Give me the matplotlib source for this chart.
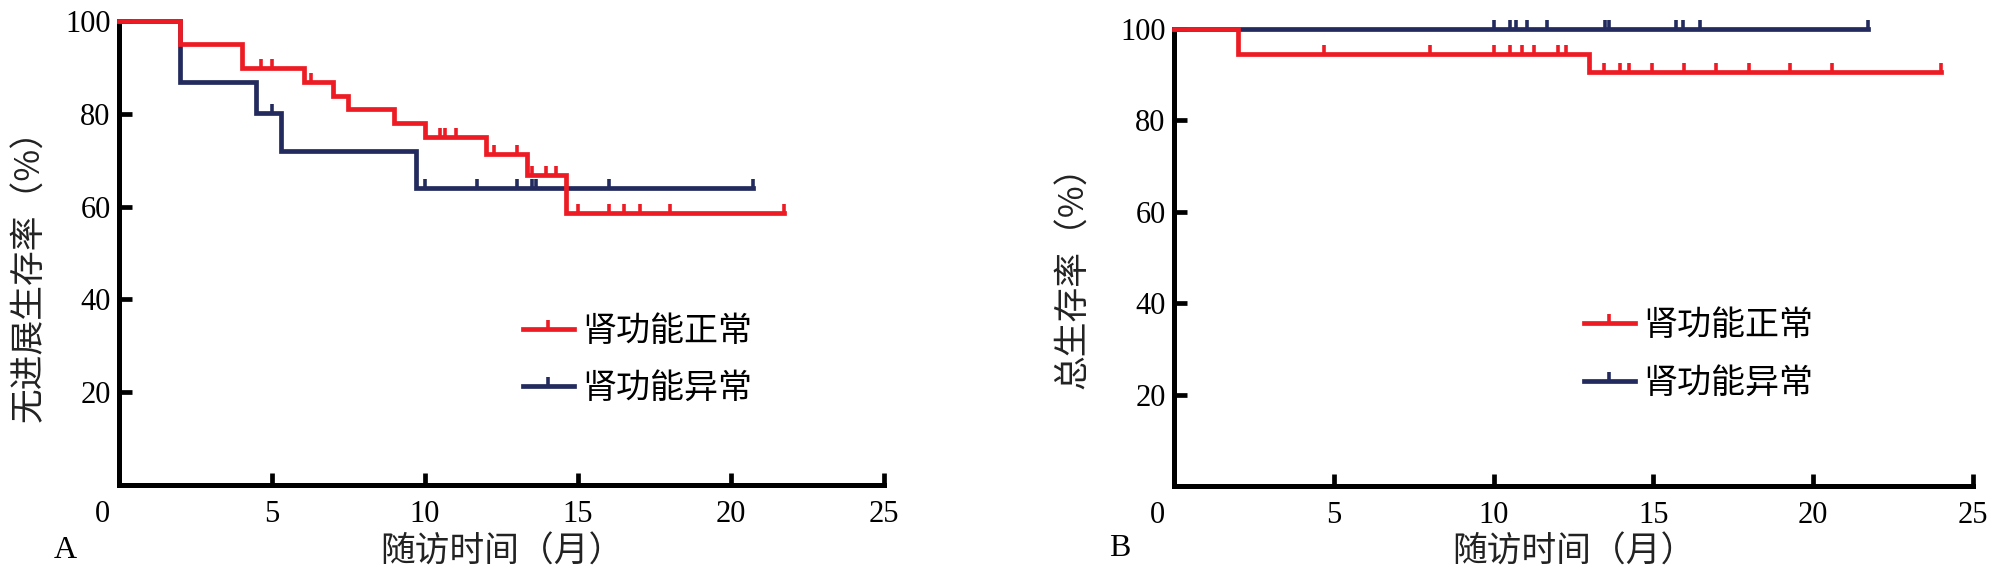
import numpy as np
import matplotlib
matplotlib.use("Agg")
import matplotlib.pyplot as plt
from matplotlib.path import Path
from matplotlib.lines import Line2D
import matplotlib.transforms as mtransforms

plt.rcParams["font.family"] = ["Noto Sans CJK SC", "DejaVu Sans"]

RED = "#ED1C24"
NAVY = "#232B5E"

groups = ["肾功能正常", "肾功能异常"]
xlabel = "随访时间（月）"
ylabels = ["无进展生存率（%）", "总生存率（%）"]
panel_tags = ["A", "B"]
xticks = [0, 5, 10, 15, 20, 25]
yticks = [20, 40, 60, 80, 100]

# A: progression-free survival
a_normal_t = [0, 2.0, 4.03, 6.03, 7.0, 7.49, 9.0, 10.0, 12.0, 13.34, 14.62, 21.74]
a_normal_s = [100, 95.0, 89.9, 86.9, 83.9, 81.1, 78.1, 75.1, 71.4, 66.8, 58.6, 58.6]
a_normal_cens = [4.64, 5.0, 6.29, 10.49, 10.64, 11.0, 12.24, 13.0, 13.5, 13.97,
                 14.27, 15.0, 16.02, 16.49, 17.03, 18.02, 21.74]
a_abn_t = [0, 1.98, 4.47, 5.3, 9.71, 20.72]
a_abn_s = [100, 86.8, 80.1, 72.0, 64.1, 64.1]
a_abn_cens = [5.0, 10.0, 11.7, 13.0, 13.5, 13.62, 16.0, 20.72]

# B: overall survival
b_normal_t = [0, 2.0, 12.98, 24.0]
b_normal_s = [100, 94.5, 90.6, 90.6]
b_normal_cens = [4.7, 8.0, 10.0, 10.5, 10.9, 11.27, 12.02, 12.27, 13.45, 13.95,
                 14.24, 14.95, 15.95, 16.97, 17.98, 19.27, 20.6, 24.0]
b_abn_t = [0, 21.7]
b_abn_s = [100, 100]
b_abn_cens = [10.0, 10.5, 10.7, 11.04, 11.68, 13.5, 13.62, 15.7, 15.94, 16.47, 21.7]

tick_mark = Path([(0, 0), (0, 1)], [Path.MOVETO, Path.LINETO])


def surv_at(t, s, x):
    idx = np.searchsorted(t, x, side="right") - 1
    return np.asarray(s)[idx]


def km(ax, t, s, cens, color, z):
    ax.step(t, s, where="post", color=color, lw=3.4, zorder=z, clip_on=False,
            solid_joinstyle="miter")
    ax.plot(cens, surv_at(t, s, cens), ls="none", marker=tick_mark, ms=13,
            mew=2.6, color=color, zorder=z, clip_on=False)


fig = plt.figure(figsize=(20.02, 5.74), dpi=100)
W, H = 2002, 574
boxes = [(119, 884, 21, 485), (1174, 1973, 29, 486)]
axes = []
for (l, r, t, b) in boxes:
    axes.append(fig.add_axes([l / W, 1 - b / H, (r - l) / W, (b - t) / H]))

curves = [
    [(a_normal_t, a_normal_s, a_normal_cens), (a_abn_t, a_abn_s, a_abn_cens)],
    [(b_normal_t, b_normal_s, b_normal_cens), (b_abn_t, b_abn_s, b_abn_cens)],
]
legend_pos = [(0.528, 0.27), (0.513, 0.288)]
ylab_pos = [(-0.116, 0.47), (-0.125, 0.475)]
tag_pos = [(65, 550), (1120, 548)]

for i, ax in enumerate(axes):
    normal, abn = curves[i]
    km(ax, *abn, NAVY, 3)
    km(ax, *normal, RED, 4)

    ax.set_xlim(0, 25)
    ax.set_ylim(0, 100)
    for side in ["top", "right"]:
        ax.spines[side].set_visible(False)
    for side in ["left", "bottom"]:
        ax.spines[side].set_linewidth(3.6)
    ax.set_xticks(xticks)
    ax.set_yticks(yticks)
    ax.set_xticklabels([str(v) for v in xticks], family="Liberation Serif", fontsize=22)
    ax.set_yticklabels([str(v) for v in yticks], family="Liberation Serif", fontsize=22)
    ax.tick_params(direction="in", length=9, width=3.4, pad=6)
    ax.tick_params(axis="x", pad=11)
    # the "0" label sits left of the corner
    lab0 = ax.get_xticklabels()[0]
    lab0.set_transform(lab0.get_transform() +
                       mtransforms.ScaledTranslation(-0.17, 0, fig.dpi_scale_trans))

    ax.set_xlabel(xlabel, fontsize=25, color="#222222")
    ax.xaxis.set_label_coords(0.5, (boxes[i][3] - 552) / (boxes[i][3] - boxes[i][2]))
    ax.xaxis.label.set_va("center")
    ax.set_ylabel(ylabels[i], fontsize=25, color="#222222")
    ax.yaxis.set_label_coords(*ylab_pos[i])
    ax.yaxis.label.set_va("center")

    handles = [
        Line2D([], [], color=RED, lw=3.4, marker=tick_mark, ms=13, mew=2.6),
        Line2D([], [], color=NAVY, lw=3.4, marker=tick_mark, ms=13, mew=2.6),
    ]
    ax.legend(handles, groups, loc="center left", bbox_to_anchor=legend_pos[i],
              frameon=False, fontsize=24.5, handlelength=1.5, handletextpad=0.25,
              labelspacing=0.65, borderpad=0, borderaxespad=0, numpoints=1)

    fig.text(tag_pos[i][0] / W, 1 - tag_pos[i][1] / H, panel_tags[i],
             family="Liberation Serif", fontsize=23, ha="center", va="center")

fig.savefig("out.png", dpi=100)
